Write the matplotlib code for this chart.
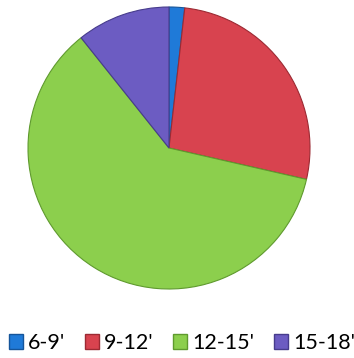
import matplotlib
matplotlib.use("Agg")
import matplotlib.pyplot as plt
from matplotlib.patches import Patch

# length classes and how many fall in each
labels = ["6-9'", "9-12'", "12-15'", "15-18'"]
counts = [1, 15, 34, 6]
colors = ["#1f7ad8", "#d8434f", "#8ccf4d", "#6c5cc2"]
edges = ["#15559a", "#9c2a33", "#5f9a2e", "#473c8c"]

plt.rcParams["font.family"] = ["Lato", "DejaVu Sans"]

fig = plt.figure(figsize=(3.54, 3.58), dpi=100)
ax = fig.add_axes([28 / 354, 69 / 358, 282 / 354, 282 / 358])

wedges, _ = ax.pie(counts, colors=colors, startangle=90, counterclock=False,
                   wedgeprops=dict(linewidth=0.8))
for w, ec in zip(wedges, edges):
    w.set_edgecolor(ec)
ax.set_xlim(-1.0, 1.0)
ax.set_ylim(-1.0, 1.0)
ax.set_aspect("equal")

handles = [Patch(facecolor=c, edgecolor=e, label=l) for c, e, l in zip(colors, edges, labels)]
fig.legend(handles=handles, loc="center", bbox_to_anchor=(0.5 + 5 / 354, 15 / 358), ncol=4,
           frameon=False, fontsize=15.5, handlelength=0.65, handleheight=0.65,
           handletextpad=0.25, columnspacing=0.9, borderaxespad=0)

fig.savefig("out.png", dpi=100)
